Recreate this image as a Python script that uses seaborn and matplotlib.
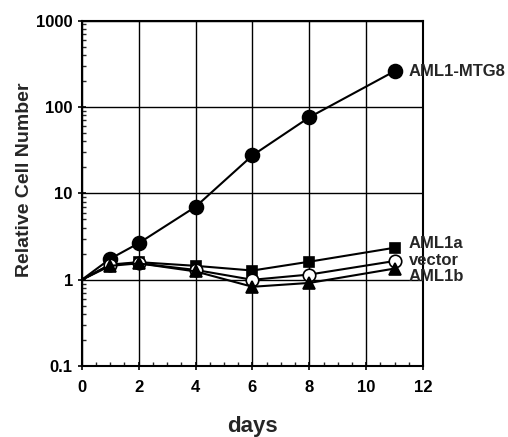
import matplotlib.pyplot as plt
import matplotlib.ticker as mticker
import seaborn as sns
import numpy as np

# Growth curves, relative to day 0
days = [0, 1, 2, 4, 6, 8, 11]
aml1_mtg8 = [1, 1.75, 2.65, 7.0, 27.5, 76, 260]
aml1a = [1, 1.5, 1.6, 1.45, 1.28, 1.62, 2.35]
vector = [1, 1.5, 1.55, 1.3, 1.0, 1.15, 1.65]
aml1b = [1, 1.45, 1.55, 1.25, 0.83, 0.92, 1.35]

# end labels (text, y position)
label_names = ["AML1-MTG8", "AML1a", "vector", "AML1b"]
label_y = [260, 2.6, 1.66, 1.08]

sns.set_style("white")
plt.rcParams['font.family'] = ['Liberation Sans', 'DejaVu Sans']

fig = plt.figure(figsize=(5.08, 4.37), dpi=100)
ax = fig.add_axes([0.161, 0.162, 0.672, 0.791])

# series: (values, marker, size, facecolor)
series = [
    (aml1_mtg8, 'o', 10, 'black'),
    (aml1a, 's', 7.5, 'black'),
    (vector, 'o', 9, 'white'),
    (aml1b, '^', 8, 'black'),
]
for vals, mk, ms, fc in series:
    sns.lineplot(x=days, y=vals, ax=ax, color='black', linewidth=1.5,
                 marker=mk, markersize=ms, markerfacecolor=fc,
                 markeredgecolor='black', markeredgewidth=1.2,
                 markevery=list(range(1, len(days))))

ax.set_yscale('log')
ax.set_xlim(0, 12)
ax.set_ylim(0.1, 1000)
ax.set_xticks(range(0, 13, 2))
ax.xaxis.set_minor_locator(mticker.MultipleLocator(0.5))
ax.yaxis.set_major_formatter(mticker.FuncFormatter(lambda v, p: f"{v:g}"))
ax.yaxis.set_minor_locator(mticker.LogLocator(base=10, subs=np.arange(2, 10)))
ax.yaxis.set_minor_formatter(mticker.NullFormatter())

ax.grid(True, which='major', color='black', linewidth=1.0)
for s in ax.spines.values():
    s.set_color('black')
    s.set_linewidth(1.5)

ax.tick_params(which='major', direction='inout', length=6, width=1.2,
               labelsize=12, colors='black', left=True, bottom=True)
ax.tick_params(axis='x', which='major', pad=7)
ax.tick_params(which='minor', direction='in', length=3, width=1,
               left=True, bottom=True)
for lbl in ax.get_xticklabels() + ax.get_yticklabels():
    lbl.set_fontweight('bold')

ax.set_xlabel("days", fontsize=16, fontweight='bold')
ax.xaxis.set_label_coords(0.5, -0.145)
ax.set_ylabel("Relative Cell Number", fontsize=14, fontweight='bold')
ax.yaxis.set_label_coords(-0.144, 0.54)

for name, yv in zip(label_names, label_y):
    ax.text(11.5, yv, name, fontsize=12, fontweight='bold', va='center',
            ha='left', clip_on=False)

fig.savefig("out.png", dpi=100)
